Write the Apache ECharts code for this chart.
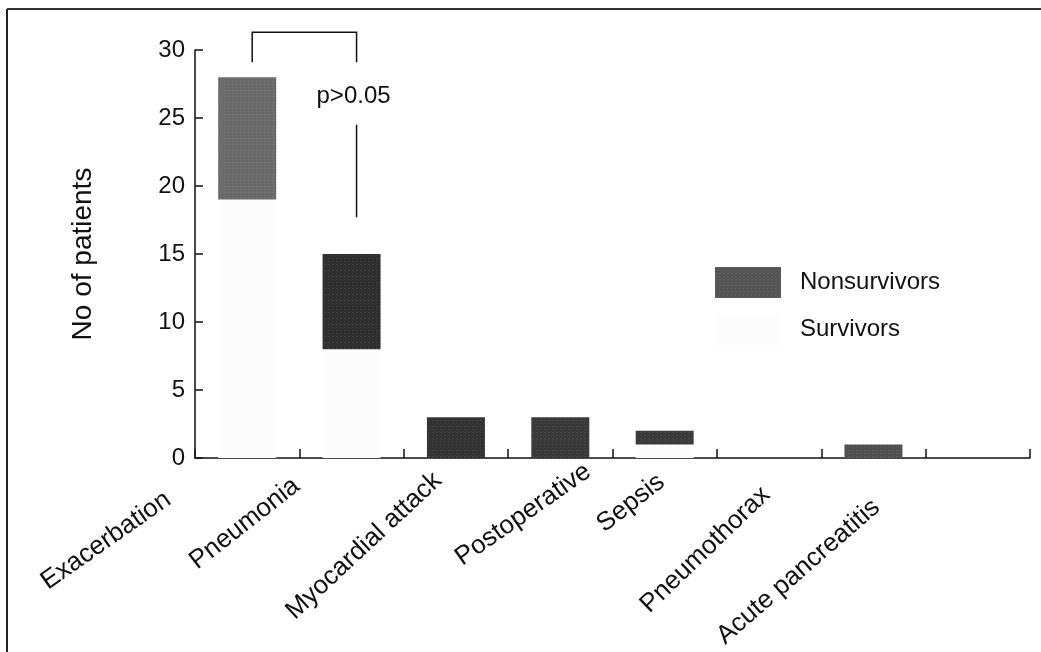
<!DOCTYPE html>
<html>
<head>
<meta charset="utf-8">
<script src="https://cdn.jsdelivr.net/npm/echarts@6/dist/echarts.min.js"></script>
<style>
html,body{margin:0;padding:0;background:#fff;}
#chart{width:1041px;height:652px;}
</style>
</head>
<body>
<div id="chart"></div>
<script>
// ---- data ----
var categories = ['Exacerbation', 'Pneumonia', 'Myocardial attack', 'Postoperative', 'Sepsis', 'Pneumothorax', 'Acute pancreatitis', ''];
var survivors    = [19, 8, 0, 0, 1, 0, 0, null];
var nonsurvivors = [9, 7, 3, 3, 1, 0, 1, null];
var yTicks = [0, 5, 10, 15, 20, 25, 30];
var percentLabels = ['68%', '53%'];        // share of survivors, first two categories
var percentLabelY = [12.9, 4.1];
var pValueText = 'p>0.05';
var bracketY = [29.1, 31.3];               // bracket legs bottom / top
var pLineY = [17.7, 24.5];                 // vertical line under p-value
var pTextY = 26.6;

// ---- layout / style (not data) ----
var FONT = "'Liberation Sans', Arial, Helvetica, sans-serif";
var LABEL_FS = 26;
// hand-placed category labels of the original: offset [dx, dy] of the text's right end
// from (category centre, axis line), and rotation in degrees
var labelOffset = [[-79, 39], [-55, 25], [-18, 19], [28, 11], [-3, 21], [-3, 33], [3, 46], [0, 0]];
var labelRot = [35, 38, 43, 35, 38, 44, 41, 40];
var nonsurvColors = ['#6a6a6a', '#2f2f2f', '#333333', '#393939', '#3a3a3a', '#3a3a3a', '#505050', '#3a3a3a'];
var decal = {
  symbol: 'rect',
  symbolSize: 0.6,
  color: 'rgba(255,255,255,0.28)',
  dashArrayX: [[1, 3], [2, 2]],
  dashArrayY: [1, 2],
  rotation: 0
};

var chart = echarts.init(document.getElementById('chart'));

var option = {
  animation: false,
  backgroundColor: '#ffffff',
  textStyle: { fontFamily: FONT },
  grid: { left: 195, right: 11, top: 50, bottom: 194, containLabel: false },
  legend: {
    orient: 'vertical',
    left: 710,
    top: 262,
    icon: 'rect',
    itemWidth: 66,
    itemHeight: 31,
    itemGap: 16,
    data: ['Nonsurvivors', 'Survivors'],
    textStyle: { fontSize: 24, color: '#111', fontFamily: FONT, padding: [0, 0, 0, 14] },
    selectedMode: false
  },
  xAxis: {
    type: 'category',
    data: categories,
    boundaryGap: true,
    axisLine: { show: true, lineStyle: { color: '#111', width: 1.5 } },
    axisTick: { show: true, inside: true, interval: 0, length: 9, lineStyle: { color: '#111', width: 1.5 } },
    axisLabel: { show: false }
  },
  yAxis: {
    type: 'value',
    min: 0, max: 30, interval: 5,
    name: 'No of patients',
    nameLocation: 'middle',
    nameGap: 98,
    nameTextStyle: { fontSize: 28, color: '#111', fontFamily: FONT },
    axisLine: { show: true, lineStyle: { color: '#111', width: 1.5 } },
    axisTick: { show: true, inside: true, length: 8, lineStyle: { color: '#111', width: 1.5 } },
    axisLabel: { fontSize: 24, color: '#111', margin: 10, fontFamily: FONT,
      formatter: function (v) { return yTicks.indexOf(v) >= 0 ? String(v) : ''; } },
    splitLine: { show: false }
  },
  series: [
    {
      name: 'Survivors',
      type: 'bar',
      stack: 'total',
      barWidth: 58,
      data: survivors,
      itemStyle: { color: '#fcfcfc' }
    },
    {
      name: 'Nonsurvivors',
      type: 'bar',
      stack: 'total',
      barWidth: 58,
      data: nonsurvivors.map(function (v, i) {
        return { value: v, itemStyle: { color: nonsurvColors[i], decal: decal } };
      }),
      itemStyle: { color: '#555555', decal: decal }
    }
  ]
};
chart.setOption(option);

function px(ci, y) { return chart.convertToPixel({ gridIndex: 0 }, [ci, y]); }

var a0 = px(0, bracketY[0]), a1 = px(0, bracketY[1]);
var b0 = px(1, bracketY[0]), b1 = px(1, bracketY[1]);
var lTop = px(1, pLineY[1]), lBot = px(1, pLineY[0]);
var pt = px(1, pTextY);
var graphics = [
  // frame
  { type: 'line', shape: { x1: 7, y1: 9, x2: 7, y2: 652 }, style: { stroke: '#222', lineWidth: 2 } },
  { type: 'line', shape: { x1: 7, y1: 9, x2: 1041, y2: 9 }, style: { stroke: '#333', lineWidth: 2 } },
  // bracket
  { type: 'polyline', shape: { points: [[a0[0] + 5, a0[1]], [a1[0] + 5, a1[1]], [b1[0] + 5, b1[1]], [b0[0] + 5, b0[1]]] },
    style: { stroke: '#111', lineWidth: 1.5, fill: null } },
  { type: 'line', shape: { x1: lTop[0] + 5, y1: lTop[1], x2: lBot[0] + 5, y2: lBot[1] }, style: { stroke: '#111', lineWidth: 1.5 } },
  { type: 'text', x: pt[0] + 2, y: pt[1], style: { text: pValueText, fontSize: 24, fill: '#111', fontFamily: FONT, align: 'center', verticalAlign: 'middle' } }
];
percentLabels.forEach(function (t, i) {
  var p = px(i, percentLabelY[i]);
  graphics.push({ type: 'text', x: p[0] + 4, y: p[1], style: { text: t, fontSize: 24, fill: '#111', fontFamily: FONT, align: 'center', verticalAlign: 'middle' } });
});
// category labels (rotated, hand-placed as in the original)
categories.forEach(function (c, i) {
  if (!c) return;
  var p = px(i, 0);
  graphics.push({
    type: 'text',
    x: p[0] + labelOffset[i][0],
    y: p[1] + labelOffset[i][1],
    rotation: labelRot[i] * Math.PI / 180,
    style: { text: c, fontSize: LABEL_FS, fill: '#111', fontFamily: FONT, align: 'right', verticalAlign: 'middle' }
  });
});
chart.setOption({ graphic: graphics });
</script>
</body>
</html>
